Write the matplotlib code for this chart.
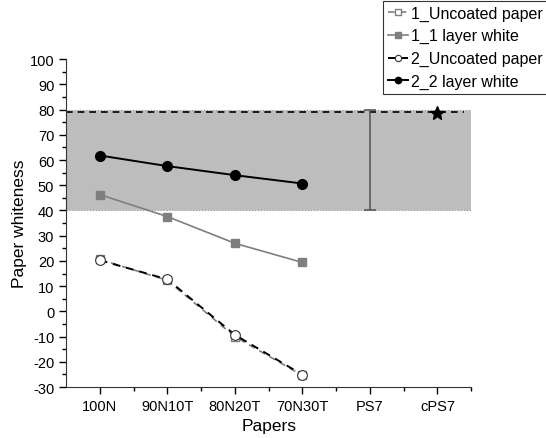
import matplotlib
matplotlib.use("Agg")
import matplotlib.pyplot as plt
from matplotlib.ticker import MultipleLocator

plt.rcParams["font.family"] = ["Liberation Sans", "DejaVu Sans"]
plt.rcParams["axes.unicode_minus"] = False

papers = ["100N", "90N10T", "80N20T", "70N30T", "PS7", "cPS7"]
x_pos = [1, 2, 3, 4, 5, 6]

uncoated_1 = [20.6, 12.3, -10.0, -25.4]
layer_1 = [46.3, 37.6, 27.0, 19.4]
uncoated_2 = [20.3, 12.7, -9.3, -25.1]
layer_2 = [61.8, 57.6, 54.0, 50.7]

band = [40, 80]          # shaded range
ps7_range = [40, 80]     # error bar at PS7
ps7_center = 60
cps7_value = 78.5
ref_line = 79

colors = {"grey": "#7f7f7f", "black": "#000000", "band": "#bdbdbd", "bar": "#5a5a5a"}

fig = plt.figure(figsize=(5.46, 4.39), dpi=100)
ax = fig.add_axes([0.121, 0.116, 0.742, 0.747])

# shaded band
ax.axhspan(band[0], band[1], facecolor=colors["band"], edgecolor="#9a9a9a",
           linestyle=":", linewidth=0.8, zorder=0)
ax.hlines(ref_line, 0.5, 6.4, colors=colors["black"], linestyles=(0, (4, 3)), linewidth=1.2, zorder=2)

# series
ax.plot(x_pos[:4], uncoated_1, color=colors["grey"], linestyle=(0, (4, 3)), linewidth=1.2,
        marker="s", markersize=6, markerfacecolor="white", markeredgecolor=colors["grey"],
        label="1_Uncoated paper", zorder=3)
ax.plot(x_pos[:4], layer_1, color=colors["grey"], linewidth=1.2,
        marker="s", markersize=6, markerfacecolor=colors["grey"], markeredgecolor=colors["grey"],
        label="1_1 layer white", zorder=3)
ax.plot(x_pos[:4], uncoated_2, color=colors["black"], linestyle=(0, (4, 3)), linewidth=1.4,
        marker="o", markersize=7, markerfacecolor="white", markeredgecolor="#333333",
        markeredgewidth=0.8, label="2_Uncoated paper", zorder=4)
ax.plot(x_pos[:4], layer_2, color=colors["black"], linewidth=1.4,
        marker="o", markersize=7, markerfacecolor=colors["black"],
        label="2_2 layer white", zorder=4)

# PS7 range and cPS7 point
ax.errorbar([x_pos[4]], [ps7_center],
            yerr=[[ps7_center - ps7_range[0]], [ps7_range[1] - ps7_center]],
            fmt="none", ecolor=colors["bar"], elinewidth=1.2, capsize=4, capthick=1.2, zorder=3)
ax.plot([x_pos[5]], [cps7_value], marker="*", markersize=10, color=colors["black"],
        linestyle="none", zorder=5)

# axes
ax.set_xlim(0.5, 6.5)
ax.set_ylim(-30, 100)
ax.set_xticks(x_pos)
ax.set_xticklabels(papers)
ax.set_xticks([1.5, 2.5, 3.5, 4.5, 5.5, 6.5], minor=True)
ax.yaxis.set_major_locator(MultipleLocator(10))
ax.yaxis.set_minor_locator(MultipleLocator(5))
ax.tick_params(axis="both", which="major", length=5, width=1, labelsize=10.5, direction="out")
ax.tick_params(axis="both", which="minor", length=3, width=1, direction="out")
ax.spines["top"].set_visible(False)
ax.spines["right"].set_visible(False)
ax.spines["left"].set_color("#333333")
ax.spines["bottom"].set_color("#333333")

ax.set_xlabel("Papers", fontsize=12.5)
ax.set_ylabel("Paper whiteness", fontsize=12.5, labelpad=2)

leg = ax.legend(loc="upper left", bbox_to_anchor=(0.701, 0.996), bbox_transform=fig.transFigure,
                fontsize=11.5, frameon=True, fancybox=False, edgecolor="black",
                handlelength=1.3, handletextpad=0.2, labelspacing=0.48, borderpad=0.3,
                borderaxespad=0, markerscale=0.65)
leg.get_frame().set_linewidth(0.8)

fig.savefig("out.png", dpi=100)
